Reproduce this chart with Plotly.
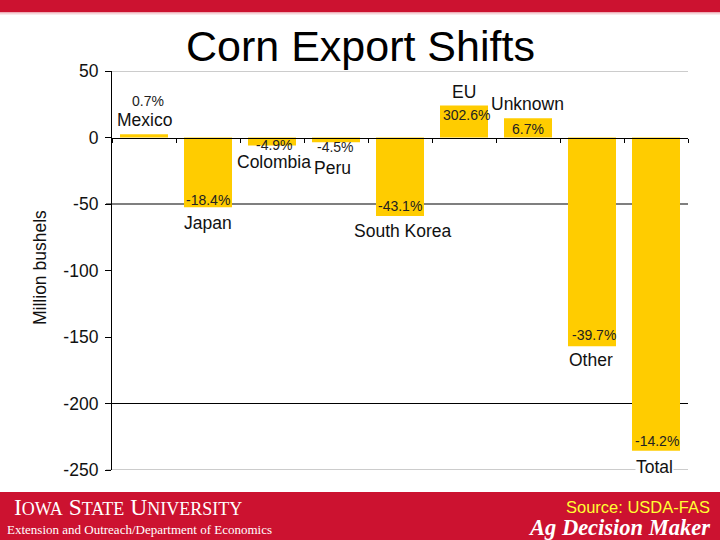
import plotly.graph_objects as go

# ---- data ----
countries = ["Mexico", "Japan", "Colombia", "Peru", "South Korea", "EU", "Unknown", "Other", "Total"]
change_mbu = [2.5, -52.5, -6, -3.5, -59, 24, 14.5, -157, -235.5]
pct_change = ["0.7%", "-18.4%", "-4.9%", "-4.5%", "-43.1%", "302.6%", "6.7%", "-39.7%", "-14.2%"]
y_ticks = [50, 0, -50, -100, -150, -200, -250]
grid_black = [-50, -200]
grid_gray = [50, -250]

# ---- label offsets (pixels) ----
pct_dy = [33, 7, 0, -5, 10, -9, -11, 11, 10]
pct_dx = [4, 0, 2, -1, 0, 2, 0, 2, 1]
name_dy = [14, -16, -17, -26, -15, 14, 14, -14, -16]
name_dx = [0, 0, 2, -4, 3, 0, -1, -1, -2]

W, H = 720, 540
L, R, T, B = 112, 32, 71, 70
PW, PH = W - L - R, H - T - B


def px(x):
    return (x - L) / PW


def py(y):
    return (H - B - y) / PH


RED = "#CC1230"
GOLD = "#FFCC00"
SANS = "Liberation Sans, Arial, sans-serif"
SERIF = "Liberation Serif, Times New Roman, serif"

fig = go.Figure()
fig.add_trace(go.Bar(
    x=countries, y=change_mbu, marker=dict(color=GOLD, line=dict(width=0)),
    hoverinfo="skip", showlegend=False,
))

shapes = []
for g in grid_black:
    shapes.append(dict(type="line", xref="paper", yref="y", x0=-6 / PW, x1=1, y0=g, y1=g,
                       line=dict(color="#000000", width=1.2), layer="below"))
for g in grid_gray:
    shapes.append(dict(type="line", xref="paper", yref="y", x0=-6 / PW, x1=1, y0=g, y1=g,
                       line=dict(color="#999999", width=1.2), layer="below"))
# top band and footer band
shapes.append(dict(type="rect", xref="paper", yref="paper", x0=px(0), x1=px(W), y0=py(0), y1=py(12.5),
                   fillcolor=RED, line=dict(width=0), layer="above"))
shapes.append(dict(type="rect", xref="paper", yref="paper", x0=px(0), x1=px(W), y0=py(12.5), y1=py(14.5),
                   fillcolor="#F6D3D8", line=dict(width=0), layer="above"))
shapes.append(dict(type="rect", xref="paper", yref="paper", x0=px(0), x1=px(W), y0=py(492), y1=py(H),
                   fillcolor=RED, line=dict(width=0), layer="above"))

ann = []
for i, c in enumerate(countries):
    ann.append(dict(x=c, y=change_mbu[i], xref="x", yref="y", text=pct_change[i], showarrow=False,
                    xshift=pct_dx[i], yshift=pct_dy[i], font=dict(family=SANS, size=14, color="#222222")))
for i, c in enumerate(countries):
    bg = "#FFFFFF" if c in ("Peru", "Total") else "rgba(0,0,0,0)"
    ann.append(dict(x=c, y=change_mbu[i], xref="x", yref="y", text=c, showarrow=False,
                    xshift=name_dx[i], yshift=name_dy[i], bgcolor=bg, borderpad=0,
                    font=dict(family=SANS, size=17.5, color="#111111")))

# title
ann.append(dict(x=px(360), y=py(46), xref="paper", yref="paper", text="Corn Export Shifts",
                showarrow=False, xanchor="center", yanchor="middle",
                font=dict(family=SANS, size=43, color="#000000")))
# y-axis title
ann.append(dict(x=px(40), y=py(268), xref="paper", yref="paper", text="Million bushels",
                showarrow=False, textangle=-90, xanchor="center", yanchor="middle",
                font=dict(family=SANS, size=17.5, color="#111111")))
# footer texts
ann.append(dict(x=px(12), y=py(507), xref="paper", yref="paper",
                text="I<span style='font-size:18px'>OWA</span> S<span style='font-size:18px'>TATE</span> "
                     "U<span style='font-size:18px'>NIVERSITY</span>",
                showarrow=False, xanchor="left", yanchor="middle",
                font=dict(family=SERIF, size=23.5, color="#FFFFFF")))
ann.append(dict(x=px(5), y=py(529), xref="paper", yref="paper",
                text="Extension and Outreach/Department of Economics",
                showarrow=False, xanchor="left", yanchor="middle",
                font=dict(family=SERIF, size=13, color="#FFFFFF")))
ann.append(dict(x=px(712), y=py(507), xref="paper", yref="paper", text="Source: USDA-FAS",
                showarrow=False, xanchor="right", yanchor="middle",
                font=dict(family=SANS, size=16.5, color="#FFFF33")))
ann.append(dict(x=px(712), y=py(527), xref="paper", yref="paper", text="<b><i>Ag Decision Maker</i></b>",
                showarrow=False, xanchor="right", yanchor="middle",
                font=dict(family=SERIF, size=22.5, color="#FFFFFF")))

fig.update_layout(
    width=W, height=H, margin=dict(l=L, r=R, t=T, b=B, pad=0),
    paper_bgcolor="#FFFFFF", plot_bgcolor="#FFFFFF",
    bargap=0.25, showlegend=False,
    shapes=shapes, annotations=ann,
    xaxis=dict(type="category", anchor="free", position=250 / 300, showline=True,
               linecolor="#000000", linewidth=1.2, ticks="outside", ticklen=4, tickcolor="#000000",
               tickson="boundaries", showticklabels=False, showgrid=False, zeroline=False,
               fixedrange=True),
    yaxis=dict(range=[-250, 50], tickvals=y_ticks, ticktext=[str(v) for v in y_ticks],
               showline=True, linecolor="#000000", linewidth=1.2, ticks="outside", ticklen=6,
               tickcolor="#000000", showgrid=False, zeroline=False, ticklabelstandoff=3,
               tickfont=dict(family=SANS, size=17.5, color="#111111"), fixedrange=True),
)

fig.write_html("out.html", config={"displayModeBar": False},
               post_script="document.body.style.margin='0';document.body.style.overflow='hidden';")
